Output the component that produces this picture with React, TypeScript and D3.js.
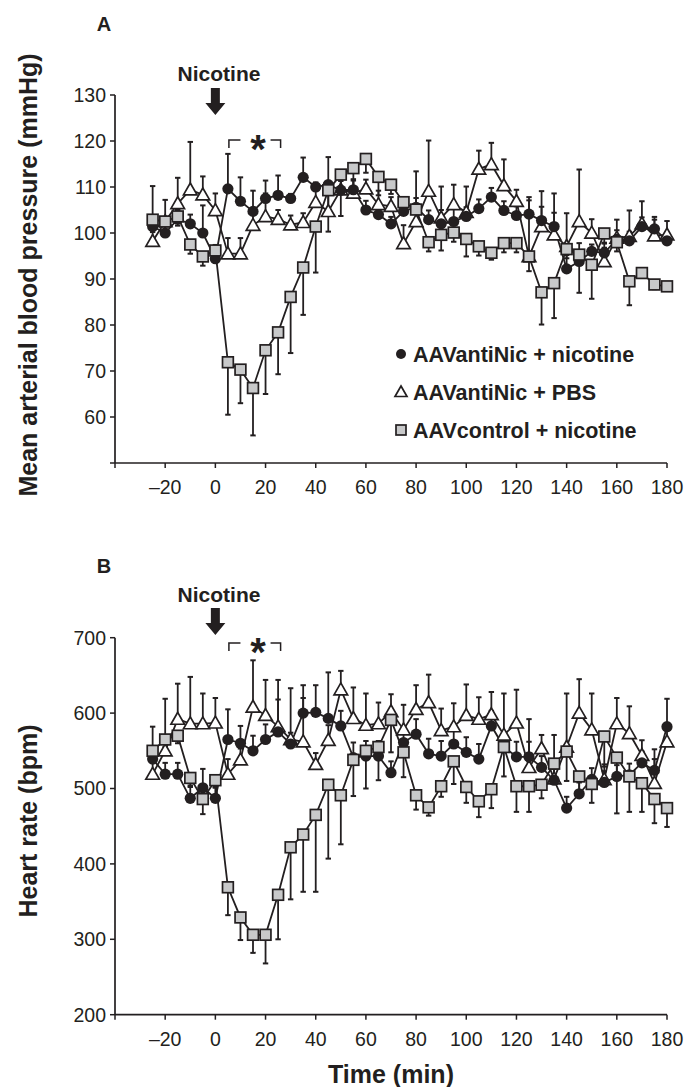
import React from 'react';
import * as d3 from 'd3';

// sampling times (min)
const times = [-25, -20, -15, -10, -5, 0, 5, 10, 15, 20, 25, 30, 35, 40, 45, 50, 55, 60, 65, 70, 75,
  80, 85, 90, 95, 100, 105, 110, 115, 120, 125, 130, 135, 140, 145, 150, 155, 160, 165, 170, 175, 180];

const xTicks = [-40, -20, 0, 20, 40, 60, 80, 100, 120, 140, 160, 180];
const mapTicks = [50, 60, 70, 80, 90, 100, 110, 120, 130];
const hrTicks = [200, 300, 400, 500, 600, 700];

const legendLabels = ['AAVantiNic + nicotine', 'AAVantiNic + PBS', 'AAVcontrol + nicotine'];

// A: mean arterial blood pressure (mmHg)
const mapNic = [101.4, 100, 103, 102, 100, 94.4, 109.6, 106.9, 104.7, 107.5, 108.2, 107.5, 112.1, 110, 110.5,
  109.3, 109.4, 105, 104, 102, 104.7, 105.6, 102.9, 102, 102.5, 103.6, 105.3, 107.8, 104.9, 103.8, 104.1, 102.7,
  101.4, 92.2, 93.8, 96, 95.7, 98.6, 98.3, 101.4, 100.9, 98.3];
const mapNicErr = [8.8, 2, 2, 2, 6, 3, 7.6, 5.2, 4.5, 3.9, 4.3, 1, 4.3, 1, 6, 2, 2, 2, 2, 1.5, 2, 2, 2, 3, 3, 2,
  2, 2, 2, 2, 3, 3, 3, 3, 4, 1.5, 2, 2, 2, 2, 2, 1];
const mapPbs = [98.2, 102.5, 106.4, 109.4, 108.3, 104.9, 95.5, 95.5, 101.7, 103.6, 103, 101.8, 102.3, 106.7, 104.7,
  109.4, 108.7, 109.6, 106.2, 105.8, 97.7, 102.5, 109.1, 103.3, 106.2, 104.5, 113.9, 114.9, 110.3, 106.9, 94.9,
  101.4, 99.6, 97.1, 102.5, 100, 93.8, 98.9, 99.3, 102, 99.4, 99.6];
const mapPbsErr = [2, 4.7, 5.6, 10.4, 4, 3.7, 3.4, 3.4, 3, 5, 2, 2, 2, 4, 5, 4, 3, 2, 3, 2, 4, 10.9, 11, 6.8,
  4.3, 5.6, 4, 4.7, 5.7, 2.5, 12.9, 7.7, 9, 7.2, 11.3, 3, 3, 4, 5.6, 4.9, 4.1, 3];
const mapCtl = [102.9, 102.5, 103.6, 97.5, 94.9, 96.2, 71.9, 70.3, 66.3, 74.5, 78.4, 86.1, 92.5, 101.4, 109.3,
  112.7, 114.1, 116.1, 112.2, 110.5, 106.7, 105.1, 98, 99.6, 100.1, 98.7, 97.1, 95.7, 97.8, 97.8, 94.9, 87.1,
  89.1, 96.5, 95.3, 93.1, 99.9, 98, 89.5, 91.3, 88.8, 88.4];
const mapCtlErr = [2, 2, 2, 2, 2, 2, 11.4, 7.3, 10.3, 9.5, 9.1, 12.2, 10.3, 10, 9, 9, 4, 3, 4, 2, 2, 3, 2, 3.4,
  2, 3.8, 2, 1.5, 2, 2, 3.2, 7, 7.6, 2, 8.3, 7.4, 2, 2, 5.2, 1, 1, 1];

// B: heart rate (bpm)
const hrNic = [539, 519, 519, 487, 501, 487, 565, 560, 550, 565, 575, 559, 600, 601, 593, 583, 541, 543, 543,
  521, 561, 572, 546, 543, 559, 548, 539, 583, 555, 542, 542, 528, 511, 474, 493, 512, 508, 516, 518, 534, 524, 582];
const hrNicErr = [43, 15, 15, 15, 25, 15, 40, 23, 20, 20, 43, 15, 20, 36, 61, 20, 20, 20, 20, 15, 20, 20, 20,
  20, 20, 20, 20, 20, 20, 20, 20, 15, 15, 15, 15, 15, 15, 15, 15, 15, 15, 37];
const hrPbs = [519, 550, 592, 586, 586, 587, 519, 538, 608, 597, 582, 565, 562, 532, 564, 631, 593, 584, 586,
  602, 578, 605, 614, 577, 582, 597, 592, 598, 571, 587, 528, 553, 513, 555, 600, 578, 512, 586, 573, 544, 507, 562];
const hrPbsErr = [15, 69, 47, 62, 40, 33, 20, 15, 62, 47, 62, 68, 75, 15, 20, 25, 41, 42, 28, 23, 33, 32, 37,
  29, 31, 41, 29, 30, 55, 44, 64, 18, 58, 71, 45, 48, 20, 34, 36, 20, 45, 20];
const hrCtl = [550, 565, 570, 514, 486, 511, 369, 329, 306, 306, 359, 422, 439, 465, 505, 491, 538, 550, 555,
  591, 548, 491, 475, 503, 536, 502, 483, 499, 555, 503, 503, 505, 533, 549, 516, 506, 569, 541, 516, 507, 486, 474];
const hrCtlErr = [10, 10, 10, 10, 20, 10, 37, 30, 24, 38, 59, 69, 76, 102, 98, 65, 48, 50, 44, 43, 33, 19, 11,
  14, 30, 21, 21, 25, 39, 34, 34, 18, 20, 39, 20, 25, 40, 74, 47, 38, 32, 25];

const FONT = "'Liberation Sans', Arial, Helvetica, sans-serif";
const INK = '#231f20';
const GREY = '#c8c9ca';

const x = d3.scaleLinear().domain([-40, 180]).range([115, 667]);

const triPath = (cx: number, cy: number, s: number) =>
  `M${cx},${cy - s}L${cx + s},${cy + s * 0.75}L${cx - s},${cy + s * 0.75}Z`;

function Marker({ kind, cx, cy, big }: { kind: string; cx: number; cy: number; big?: boolean }) {
  if (kind === 'circle') return <circle cx={cx} cy={cy} r={big ? 5.6 : 5} fill={INK} />;
  if (kind === 'tri')
    return <path d={triPath(cx, cy, big ? 6.8 : 6)} fill="white" stroke={INK} strokeWidth={1.7} strokeLinejoin="miter" />;
  const h = big ? 5.4 : 5;
  return <rect x={cx - h} y={cy - h} width={h * 2} height={h * 2} fill={GREY} stroke={INK} strokeWidth={1.7} />;
}

type Series = { kind: string; values: number[]; err: number[]; dir: number };

function Panel({ y, ticks, labelFirst, series, label, labelY, nicY, arrowY, bracketY, title, titleY, xTitle }: any) {
  const [y0, y1] = y.range();
  const line = d3.line<number>().x((d, i) => x(times[i])).y(d => y(d));
  const order = ['tri', 'circle', 'square'];
  const drawn: Series[] = order.map(k => series.find((s: Series) => s.kind === k));
  return (
    <g>
      <text x={104} y={labelY} fontSize={20} fontWeight="bold" textAnchor="middle" fill={INK}>{label}</text>
      <text x={219} y={nicY} fontSize={21} fontWeight="bold" textAnchor="middle" fill={INK}>Nicotine</text>
      <path d={`M${x(0) - 4.5},${arrowY}V${arrowY + 15}H${x(0) - 10}L${x(0)},${arrowY + 27}L${x(0) + 10},${arrowY + 15}H${x(0) + 4.5}V${arrowY}Z`} fill={INK} />
      <path d={`M${x(5) + 1},${bracketY + 8}V${bracketY}H${x(10)}M${x(22)},${bracketY}H${x(26)}V${bracketY + 8}`}
        fill="none" stroke={INK} strokeWidth={1.5} />
      <text x={x(17)} y={bracketY + 23} fontSize={40} fontWeight="bold" textAnchor="middle" fill={INK}>*</text>

      {/* axes */}
      <line x1={x.range()[0]} x2={x.range()[1]} y1={y0} y2={y0} stroke={INK} strokeWidth={1.7} />
      <line x1={x.range()[0]} x2={x.range()[0]} y1={y0} y2={y1} stroke={INK} strokeWidth={1.7} />
      {ticks.map((t: number) => (
        <g key={t}>
          <line x1={110} x2={115} y1={y(t)} y2={y(t)} stroke={INK} strokeWidth={1.5} />
          {(labelFirst || t !== ticks[0]) &&
            <text x={106} y={y(t)} dy="0.35em" fontSize={19.5} textAnchor="end" fill={INK}>{t}</text>}
        </g>
      ))}
      {xTicks.map(t => (
        <g key={t}>
          <line x1={x(t)} x2={x(t)} y1={y0} y2={y0 + 5} stroke={INK} strokeWidth={1.5} />
          {t !== -40 &&
            <text x={x(t)} y={y0 + 31} fontSize={19.5} textAnchor="middle" fill={INK}>{t < 0 ? `\u2013${-t}` : t}</text>}
        </g>
      ))}
      <text transform={`translate(37,${titleY}) rotate(-90)`} fontSize={25} fontWeight="bold" textAnchor="middle" fill={INK}>{title}</text>
      {xTitle && <text x={391} y={y0 + 68} fontSize={25} fontWeight="bold" textAnchor="middle" fill={INK}>{xTitle}</text>}

      {/* lines and error bars */}
      {drawn.map(s => (
        <g key={s.kind}>
          <path d={line(s.values) || ''} fill="none" stroke={INK} strokeWidth={1.8} />
          {s.values.map((v, i) => {
            const cx = x(times[i]);
            const ye = y(v + s.dir * s.err[i]);
            return (
              <g key={i}>
                <line x1={cx} x2={cx} y1={y(v)} y2={ye} stroke={INK} strokeWidth={1.8} />
                <line x1={cx - 2.7} x2={cx + 2.7} y1={ye} y2={ye} stroke={INK} strokeWidth={2} />
              </g>
            );
          })}
        </g>
      ))}
      {drawn.map(s => (
        <g key={s.kind + 'm'}>
          {s.values.map((v, i) => <Marker key={i} kind={s.kind} cx={x(times[i])} cy={y(v)} big />)}
        </g>
      ))}
    </g>
  );
}

export default function App() {
  const yA = d3.scaleLinear().domain([50, 130]).range([463, 95]);
  const yB = d3.scaleLinear().domain([200, 700]).range([1014.7, 637.7]);
  const kinds = ['circle', 'tri', 'square'];
  const legendY = [354, 392, 430];
  return (
    <svg width={685} height={1087} style={{ position: 'absolute', left: 0, top: 0 }} fontFamily={FONT}>
      <rect width={685} height={1087} fill="white" />
      <Panel y={yA} ticks={mapTicks} labelFirst={false} label="A" labelY={31} nicY={81} arrowY={88}
        bracketY={140} title="Mean arterial blood pressure (mmHg)" titleY={275}
        series={[
          { kind: 'circle', values: mapNic, err: mapNicErr, dir: 1 },
          { kind: 'tri', values: mapPbs, err: mapPbsErr, dir: 1 },
          { kind: 'square', values: mapCtl, err: mapCtlErr, dir: -1 },
        ]} />
      <Panel y={yB} ticks={hrTicks} labelFirst={true} label="B" labelY={573} nicY={602} arrowY={608}
        bracketY={643} title="Heart rate (bpm)" titleY={821} xTitle="Time (min)"
        series={[
          { kind: 'circle', values: hrNic, err: hrNicErr, dir: 1 },
          { kind: 'tri', values: hrPbs, err: hrPbsErr, dir: 1 },
          { kind: 'square', values: hrCtl, err: hrCtlErr, dir: -1 },
        ]} />
      {/* legend */}
      {legendLabels.map((l, i) => (
        <g key={l}>
          <Marker kind={kinds[i]} cx={401} cy={legendY[i]} />
          <text x={413} y={legendY[i] + 8} fontSize={21.5} fontWeight="bold" fill={INK}>{l}</text>
        </g>
      ))}
    </svg>
  );
}
